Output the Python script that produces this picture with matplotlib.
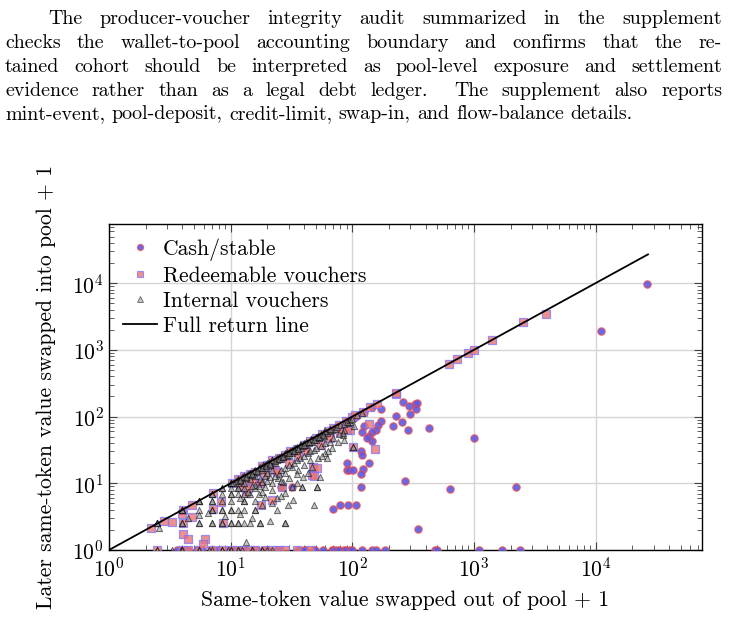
import matplotlib
matplotlib.use("Agg")
import matplotlib.pyplot as plt
from matplotlib.ticker import LogLocator, NullFormatter
from matplotlib.lines import Line2D

plt.rcParams['font.family'] = ['cmr10', 'DejaVu Serif']
plt.rcParams['mathtext.fontset'] = 'cm'
plt.rcParams['axes.formatter.use_mathtext'] = True

FS = 15.6   # figure text
PFS = 14.4  # paragraph text

# paragraph above the figure
para_lines = [
    "The producer-voucher integrity audit summarized in the supplement",
    "checks the wallet-to-pool accounting boundary and confirms that the re-",
    "tained cohort should be interpreted as pool-level exposure and settlement",
    "evidence rather than as a legal debt ledger.  The supplement also reports",
    "mint-event, pool-deposit, credit-limit, swap-in, and flow-balance details.",
]

# Cash/stable (circles)
cash_x = [3.6, 4, 4.5, 5.3, 5.8, 7, 7.9, 9.9, 10.9, 11.9, 13.5, 16.4, 19.8, 24.7, 36, 40, 41, 48, 49,
          57, 68, 70, 74, 78, 86, 89, 95, 99, 120, 145, 157, 186, 479, 501, 1104, 1716, 2399,
          171, 260, 295, 330, 343, 335, 299, 228, 254, 218, 289, 431, 171, 162, 156, 144, 136, 145,
          126, 121, 132, 117, 120, 137, 123, 117, 91, 90, 94, 102, 117, 107, 93, 79, 70, 272, 347,
          637, 1010, 2200, 26500, 11100,
          17.4, 26, 32, 12, 15, 18, 22, 27, 33, 40, 48, 60, 75, 90, 105, 125, 145]
cash_y = [1, 1, 1, 1, 1, 1, 1, 1, 1, 1, 1, 1, 1, 1, 1, 1, 1, 1, 1,
          1, 1, 1, 1, 1, 1, 1, 1, 1, 1, 1, 1, 1, 1, 1, 1, 1, 1,
          129, 167, 144, 155, 158, 131, 109, 102, 83, 71, 62, 68, 85, 75, 63, 58, 51, 43,
          71, 58, 47, 30, 27, 20, 16.6, 13.8, 20, 16, 16, 16, 8.7, 4.8, 4.8, 4.8, 4.1, 10.8, 2.1,
          8.2, 47, 8.9, 9800, 1900,
          10, 8.9, 8.9, 11, 13, 17, 19, 25, 30, 36, 45, 55, 70, 85, 100, 118, 138]

# Redeemable vouchers (squares)
redeem_x = [2.5, 4, 4.5, 5.5, 7, 8.5, 10, 11.5, 13, 14.5, 16, 19, 22, 25, 28, 35, 45,
            2.2, 2.85, 3.3, 4.08, 4.8, 4.0, 4.8, 4.08, 4.08, 4.5, 6.1, 5.9, 7.1, 8.4, 7.1, 8.6,
            13.5, 17.4, 17.9, 21.8, 13.5, 26.3, 47.9, 51, 46.4, 102, 154, 95, 138, 48,
            10.2, 11.5, 13, 14.5, 16, 18, 20, 22, 25, 28, 31, 35, 40, 45, 50, 56, 63, 70, 78, 88,
            100, 105, 122, 140, 160, 228, 230, 620, 720, 900, 1000, 1400, 2550, 3900,
            12, 15, 19, 23, 30, 36, 42, 55, 65, 80, 90, 24, 14]
redeem_y = [1, 1, 1, 1, 1, 1, 1, 1, 1, 1, 1, 1, 1, 1, 1, 1, 1,
            2.16, 2.75, 2.66, 4.0, 4.7, 3.46, 3.1, 2.5, 1.74, 1.45, 1.45, 1.23, 7.1, 5.3, 4.08, 2.5,
            7.1, 10, 4.7, 5.6, 10, 8.9, 17.7, 16.8, 13.3, 34.7, 33, 63, 78, 13,
            10.2, 11.5, 13, 14, 15, 18, 19, 22, 24, 27, 30, 33, 38, 43, 48, 54, 60, 67, 75, 85,
            98, 105, 118, 141, 155, 216, 222, 620, 720, 900, 1000, 1400, 2600, 3400,
            9, 11, 14, 16, 20, 26, 30, 38, 47, 58, 62, 15, 8.5]

# Internal vouchers (triangles)
internal_x = [2.5, 2.5, 2.5, 4, 4, 4, 5.5, 5.5, 5.5, 7, 7, 8.5, 8.5, 10, 10, 10, 11.5, 11.5,
              13, 13, 14.5, 14.5, 16, 17.5, 19, 20.5, 22, 25, 28, 31, 34, 37, 40, 46, 52, 58,
              4, 4, 5.5, 5.5, 7, 7, 8.5, 8.5, 10, 10, 11.5, 11.5, 13, 14.5, 17.5, 17.5, 28, 28, 21,
              5.5, 7, 7, 8.5, 8.5, 10, 10, 13, 16, 16, 11.5, 24,
              7, 7, 8.5, 10, 13, 13, 16, 19, 24, 32.8, 29.8, 48.8,
              8.5, 10, 10, 11.5, 13, 14.5, 17, 28,
              10, 11.5, 11.5, 13, 16, 19, 31.8, 38.4, 38.4, 51, 51,
              11.5, 13, 16, 21.8, 27, 34.9, 14.5, 16, 19, 17.5, 20, 22, 24.7, 28, 39.5, 43.6, 54,
              36, 31.8, 46.4, 52.5, 59.6, 67.5, 76.5, 84, 93, 102, 96, 103, 86, 84, 101, 62,
              12, 13.5, 15, 16.5, 18, 19.5, 21, 23, 24, 26, 27, 29, 30, 32, 33, 35, 36, 38, 39,
              42, 44, 47, 50, 53, 55, 58, 62, 65, 68, 72, 75, 80, 85, 90, 95, 100, 110, 120,
              12, 14, 15, 17, 18, 20, 21, 23, 25, 26, 28, 30, 33, 35, 37, 40, 43, 45, 48, 50,
              55, 60, 65, 70, 78, 85, 63, 56, 45, 40, 35, 30, 26,
              2.5, 2.5, 3.3, 3.9, 4, 4, 5.5, 5.5, 6.7, 7, 8.5, 8.5, 9.5, 10, 10, 11.5, 11.5,
              12.3, 13.5, 15, 15, 18, 18, 20, 22,
              2.6, 4.5, 5.5, 6.5, 9, 12, 15, 18, 22, 26, 22, 18,
              11, 12.5, 14, 15.5, 17, 18.5, 20, 22, 24, 26, 29, 32, 35, 38, 42, 46, 50, 55, 60, 66,
              10.5, 12, 13.5, 15, 16.5, 18, 19.5, 21, 23, 25, 27, 30, 33, 36, 40, 44, 48, 53, 57]
internal_y = [2.5, 2.5, 2.5, 4, 4, 4, 5.5, 5.5, 5.5, 7, 7, 8.5, 8.5, 10, 10, 10, 11.5, 11.5,
              13, 13, 14.5, 14.5, 16, 17.5, 19, 20.5, 22, 25, 28, 31, 34, 37, 40, 46, 52, 58,
              2.5, 2.5, 2.5, 2.5, 2.5, 2.5, 2.5, 2.5, 2.5, 2.5, 2.5, 2.5, 2.5, 2.5, 2.5, 2.5, 2.5, 2.5, 2.7,
              4, 4, 4, 4, 4, 4, 4, 4, 4, 4, 4, 4,
              5.5, 5.5, 5.5, 5.5, 5.5, 5.5, 5.5, 6.3, 6, 5.6, 4.7, 4.7,
              7, 7, 7, 7, 7, 7, 7, 7.1,
              8.5, 8.5, 8.5, 8.5, 8.5, 8.9, 8.9, 8.7, 8.7, 8.7, 8.7,
              10, 10, 9.4, 10, 10.6, 10, 11.5, 13, 13, 11.5, 14.5, 16, 11.9, 14.1, 12.6, 14.1, 12.6,
              15.8, 17.7, 17.7, 23.7, 28, 33.4, 42, 53, 79, 35.5, 84, 72, 63, 56, 34.7, 23.7,
              11, 12, 13.5, 15, 16, 17, 19, 20, 22, 23, 25, 26, 27, 28, 31, 31, 33, 34, 36,
              38, 40, 42, 45, 48, 50, 52, 57, 60, 62, 66, 70, 74, 78, 84, 88, 92, 105, 112,
              6, 7.5, 9, 9, 10.5, 11, 12.5, 13, 14, 16, 17, 19, 20, 22, 24, 26, 28, 30, 32, 34,
              36, 40, 42, 48, 55, 45, 30, 26, 22, 19, 14, 12, 11,
              1, 1, 1, 1, 1, 1, 1, 1, 1, 1, 1, 1, 1, 1, 1, 1, 1,
              1, 1.33, 1, 1, 1, 1, 1, 1,
              2.16, 3.0, 3.3, 3.6, 3.2, 3.5, 3.0, 4.8, 5.0, 6.5, 8, 7.5,
              11, 12.5, 14, 15.5, 17, 18.5, 20, 22, 24, 26, 29, 32, 35, 38, 42, 46, 50, 55, 60, 66,
              10, 11.2, 12.5, 14, 15.5, 17, 18, 19.5, 21.5, 23, 25, 28, 31, 33, 37, 41, 45, 49, 53]

# full return line endpoints
line_x = [1, 27000]
line_y = [1, 27000]

cash_face = (0.35, 0.35, 0.9, 0.9)
cash_edge = (0.92, 0.3, 0.3, 0.75)
red_face = (0.92, 0.45, 0.45, 0.8)
red_edge = (0.45, 0.45, 1.0, 0.7)
int_face = (0.55, 0.55, 0.55, 0.5)
int_edge = (0.0, 0.0, 0.0, 0.55)

fig = plt.figure(figsize=(7.29, 6.18), dpi=100)
ax = fig.add_axes([109 / 729, 1 - 550 / 618, 593 / 729, 326 / 618])

ax.scatter(cash_x, cash_y, s=28, marker='o', facecolor=cash_face,
           edgecolor=cash_edge, linewidths=0.9, zorder=3)
ax.scatter(redeem_x, redeem_y, s=28, marker='s', facecolor=red_face,
           edgecolor=red_edge, linewidths=0.9, zorder=4)
ax.scatter(internal_x, internal_y, s=20, marker='^', facecolor=int_face,
           edgecolor=int_edge, linewidths=0.7, zorder=5)
ax.plot(line_x, line_y, color='black', lw=1.3, zorder=6)

ax.set_xscale('log')
ax.set_yscale('log')
ax.set_xlim(1, 75000)
ax.set_ylim(1, 77000)
ax.xaxis.set_major_locator(LogLocator(base=10, numticks=10))
ax.yaxis.set_major_locator(LogLocator(base=10, numticks=10))
ax.xaxis.set_minor_locator(LogLocator(base=10, subs=range(2, 10), numticks=20))
ax.yaxis.set_minor_locator(LogLocator(base=10, subs=range(2, 10), numticks=20))
ax.xaxis.set_minor_formatter(NullFormatter())
ax.yaxis.set_minor_formatter(NullFormatter())
ax.tick_params(which='both', direction='in', top=True, right=True, labelsize=FS)
ax.tick_params(axis='x', which='major', pad=5)
ax.tick_params(which='major', length=6, width=0.8, color='#444444')
ax.tick_params(which='minor', length=3.5, width=0.6, color='#444444')
ax.grid(True, which='major', color='#d4d4d4', lw=1.0, zorder=0)
ax.set_axisbelow(True)
for sp in ax.spines.values():
    sp.set_linewidth(1.0)

ax.set_xlabel('Same-token value swapped out of pool + 1', fontsize=FS, labelpad=7)
ax.set_ylabel('Later same-token value swapped into pool + 1', fontsize=FS, labelpad=12)

handles = [
    Line2D([], [], ls='none', marker='o', ms=4.5, mfc=cash_face, mec=cash_edge, mew=0.8),
    Line2D([], [], ls='none', marker='s', ms=4.5, mfc=red_face, mec=red_edge, mew=0.8),
    Line2D([], [], ls='none', marker='^', ms=4, mfc=int_face, mec=int_edge, mew=0.6),
    Line2D([], [], color='black', lw=1.3),
]
labels = ['Cash/stable', 'Redeemable vouchers', 'Internal vouchers', 'Full return line']
ax.legend(handles, labels, loc='upper left', frameon=False, fontsize=FS,
          handlelength=1.55, handletextpad=0.3, labelspacing=0.26, borderaxespad=0.35,
          borderpad=0.3)

# justified paragraph
fig.canvas.draw()
r = fig.canvas.get_renderer()
left, right = 5, 722
baselines = [24, 48, 72, 96, 119]


def tw(s):
    t = fig.text(0, 0, s, fontsize=PFS)
    w = t.get_window_extent(r).width
    t.remove()
    return w


for i, line in enumerate(para_lines):
    parts = line.split(' ')
    x0 = 48 if i == 0 else left
    n_gaps = len(parts) - 1
    extra = 0 if i == len(para_lines) - 1 else (right - x0 - tw(line)) / n_gaps
    for k, p in enumerate(parts):
        if not p:
            continue
        start = tw(' '.join(parts[:k + 1])) - tw(p)
        fig.text((x0 + start + k * extra) / 729, 1 - baselines[i] / 618, p,
                 fontsize=PFS, va='baseline', ha='left')

fig.savefig('out.png', dpi=100)
